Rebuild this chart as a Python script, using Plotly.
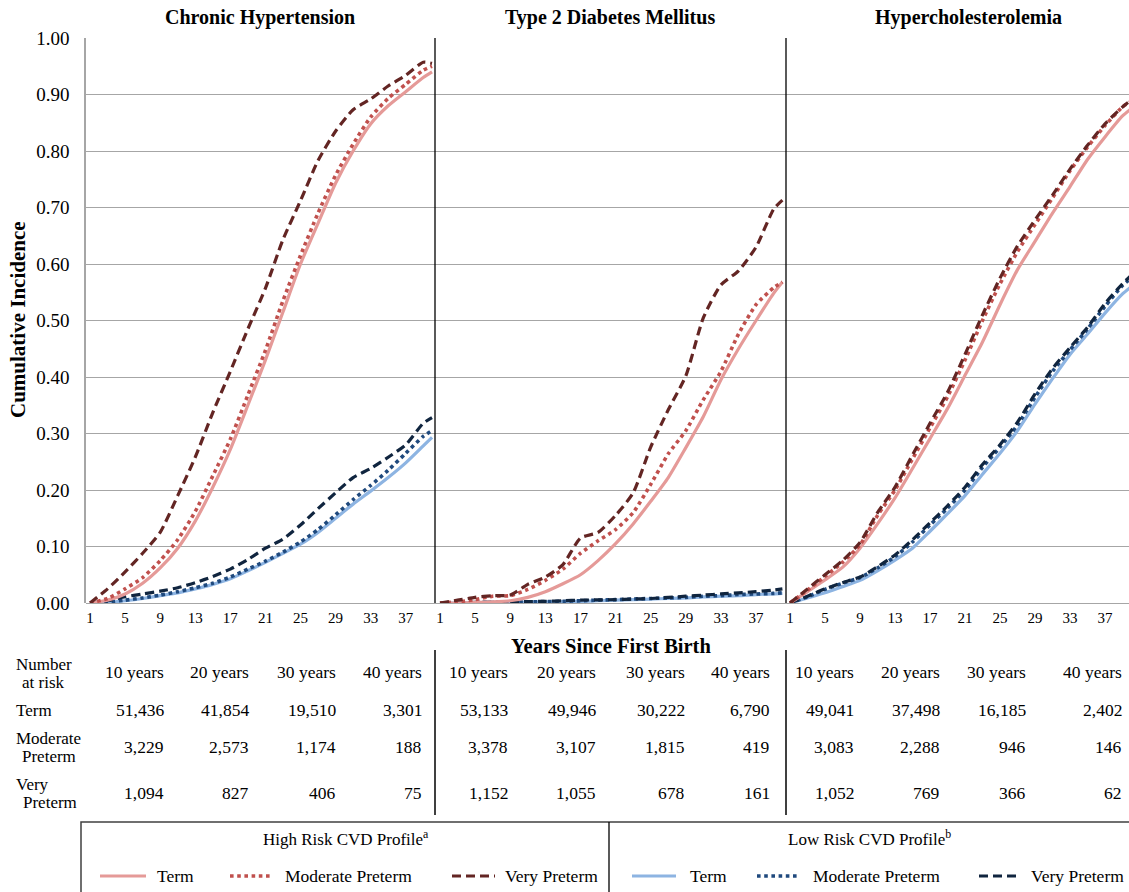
import plotly.graph_objects as go

# ---------------- data ----------------
YEARS = [1, 3, 5, 7, 9, 11, 13, 15, 17, 19, 21, 23, 25, 27, 29, 31, 33, 35, 37, 39, 40]
X_TICKS = [1, 5, 9, 13, 17, 21, 25, 29, 33, 37]
Y_TICKS = [0.0, 0.1, 0.2, 0.3, 0.4, 0.5, 0.6, 0.7, 0.8, 0.9, 1.0]

PANEL_TITLES = ["Chronic Hypertension", "Type 2 Diabetes Mellitus", "Hypercholesterolemia"]

# Chronic Hypertension
CH_high_term = [0, 0.005, 0.016, 0.035, 0.062, 0.097, 0.145, 0.205, 0.272, 0.35, 0.43, 0.515, 0.60, 0.672, 0.743, 0.80, 0.848, 0.88, 0.905, 0.93, 0.94]
CH_high_mod = [0, 0.008, 0.025, 0.045, 0.075, 0.112, 0.162, 0.225, 0.29, 0.368, 0.447, 0.535, 0.615, 0.69, 0.757, 0.812, 0.86, 0.893, 0.918, 0.943, 0.95]
CH_high_vp = [0, 0.025, 0.055, 0.088, 0.125, 0.19, 0.258, 0.337, 0.41, 0.485, 0.557, 0.643, 0.712, 0.783, 0.835, 0.873, 0.892, 0.915, 0.934, 0.957, 0.955]
CH_low_term = [0, 0.001, 0.004, 0.008, 0.013, 0.018, 0.025, 0.033, 0.043, 0.057, 0.072, 0.088, 0.104, 0.125, 0.15, 0.175, 0.198, 0.222, 0.248, 0.278, 0.293]
CH_low_mod = [0, 0.002, 0.005, 0.009, 0.014, 0.02, 0.027, 0.035, 0.046, 0.06, 0.074, 0.09, 0.108, 0.13, 0.156, 0.183, 0.208, 0.235, 0.265, 0.295, 0.305]
CH_low_vp = [0, 0.004, 0.011, 0.016, 0.021, 0.027, 0.036, 0.047, 0.06, 0.077, 0.097, 0.113, 0.138, 0.167, 0.195, 0.222, 0.238, 0.258, 0.28, 0.318, 0.328]

# Type 2 Diabetes Mellitus
T2D_high_term = [0, 0, 0.001, 0.002, 0.004, 0.01, 0.02, 0.034, 0.05, 0.075, 0.105, 0.14, 0.18, 0.222, 0.275, 0.33, 0.395, 0.45, 0.5, 0.548, 0.568]
T2D_high_mod = [0, 0.002, 0.006, 0.012, 0.013, 0.024, 0.04, 0.06, 0.088, 0.11, 0.13, 0.16, 0.21, 0.264, 0.305, 0.36, 0.41, 0.476, 0.528, 0.558, 0.568]
T2D_high_vp = [0, 0.005, 0.01, 0.013, 0.014, 0.033, 0.046, 0.068, 0.115, 0.125, 0.155, 0.195, 0.276, 0.342, 0.402, 0.505, 0.563, 0.588, 0.63, 0.697, 0.713]
T2D_low_term = [0, 0, 0.0005, 0.001, 0.001, 0.0015, 0.002, 0.0025, 0.003, 0.004, 0.005, 0.006, 0.007, 0.008, 0.009, 0.011, 0.012, 0.013, 0.015, 0.016, 0.017]
T2D_low_mod = [0, 0, 0.001, 0.001, 0.0015, 0.002, 0.0025, 0.003, 0.004, 0.005, 0.006, 0.007, 0.008, 0.009, 0.01, 0.012, 0.013, 0.015, 0.016, 0.017, 0.018]
T2D_low_vp = [0, 0, 0.001, 0.0015, 0.002, 0.0025, 0.003, 0.004, 0.005, 0.0055, 0.006, 0.007, 0.008, 0.01, 0.012, 0.014, 0.016, 0.018, 0.02, 0.023, 0.025]

# Hypercholesterolemia
HC_high_term = [0, 0.02, 0.041, 0.063, 0.097, 0.14, 0.186, 0.238, 0.291, 0.344, 0.403, 0.462, 0.528, 0.59, 0.64, 0.69, 0.737, 0.785, 0.825, 0.862, 0.875]
HC_high_mod = [0, 0.023, 0.047, 0.072, 0.103, 0.155, 0.2, 0.255, 0.31, 0.365, 0.43, 0.5, 0.565, 0.622, 0.67, 0.717, 0.765, 0.807, 0.845, 0.878, 0.888]
HC_high_vp = [0, 0.025, 0.05, 0.075, 0.107, 0.16, 0.205, 0.262, 0.318, 0.373, 0.44, 0.51, 0.575, 0.632, 0.678, 0.722, 0.768, 0.81, 0.848, 0.878, 0.89]
HC_low_term = [0, 0.009, 0.018, 0.029, 0.04, 0.057, 0.076, 0.097, 0.127, 0.158, 0.19, 0.228, 0.265, 0.305, 0.352, 0.397, 0.44, 0.476, 0.513, 0.547, 0.56]
HC_low_mod = [0, 0.011, 0.024, 0.035, 0.045, 0.062, 0.082, 0.108, 0.138, 0.168, 0.2, 0.24, 0.276, 0.315, 0.364, 0.41, 0.448, 0.485, 0.525, 0.562, 0.575]
HC_low_vp = [0, 0.012, 0.025, 0.036, 0.046, 0.064, 0.085, 0.112, 0.142, 0.172, 0.205, 0.245, 0.28, 0.32, 0.37, 0.415, 0.452, 0.488, 0.53, 0.565, 0.58]

# Number at risk table
RISK_HEADERS = ["10 years", "20 years", "30 years", "40 years"]
CH_at_risk = [["51,436", "41,854", "19,510", "3,301"], ["3,229", "2,573", "1,174", "188"], ["1,094", "827", "406", "75"]]
T2D_at_risk = [["53,133", "49,946", "30,222", "6,790"], ["3,378", "3,107", "1,815", "419"], ["1,152", "1,055", "678", "161"]]
HC_at_risk = [["49,041", "37,498", "16,185", "2,402"], ["3,083", "2,288", "946", "146"], ["1,052", "769", "366", "62"]]

LEGEND_GROUPS = ["High Risk CVD Profile<sup>a</sup>", "Low Risk CVD Profile<sup>b</sup>"]
LEGEND_LABELS = ["Term", "Moderate Preterm", "Very Preterm"]

# ---------------- styling ----------------
W, H = 1129, 892
L, T, PW, PH = 86, 38, 1043, 565
FONT = "Liberation Serif, Times New Roman, serif"

def fx(px):
    return (px - L) / PW

def fy(py):
    return (T + PH - py) / PH

STYLES = [
    dict(color="#E59A98", width=3.2, dash="solid"),
    dict(color="#C0504D", width=3.6, dash="dot"),
    dict(color="#632523", width=3.2, dash="9px,5px"),
    dict(color="#8DB4E2", width=3.2, dash="solid"),
    dict(color="#1F497D", width=3.6, dash="dot"),
    dict(color="#10253F", width=3.2, dash="9px,5px"),
]

panels = [
    [CH_high_term, CH_high_mod, CH_high_vp, CH_low_term, CH_low_mod, CH_low_vp],
    [T2D_high_term, T2D_high_mod, T2D_high_vp, T2D_low_term, T2D_low_mod, T2D_low_vp],
    [HC_high_term, HC_high_mod, HC_high_vp, HC_low_term, HC_low_mod, HC_low_vp],
]
order = [3, 4, 5, 0, 1, 2]

fig = go.Figure()
for pi, series in enumerate(panels):
    xa = "x" if pi == 0 else f"x{pi+1}"
    ya = "y" if pi == 0 else f"y{pi+1}"
    for si in order:
        st = STYLES[si]
        fig.add_trace(go.Scatter(
            x=YEARS, y=series[si], mode="lines", xaxis=xa, yaxis=ya,
            line=dict(color=st["color"], width=st["width"], dash=st["dash"],
                      shape="spline", smoothing=0.6),
            showlegend=False, hoverinfo="skip"))

panel_px = [(86, 435), (435, 786), (786, 1129)]
x_ranges = [[0.54, 40.34], [0.43, 40.41], [0.543, 39.74]]
GRID = "#A6A6A6"

layout = dict(
    width=W, height=H, plot_bgcolor="white", paper_bgcolor="white",
    margin=dict(l=L, r=W - L - PW, t=T, b=H - T - PH, pad=0),
    font=dict(family=FONT, color="black"),
    showlegend=False,
)
for pi in range(3):
    sfx = "" if pi == 0 else str(pi + 1)
    x0, x1 = panel_px[pi]
    layout["xaxis" + sfx] = dict(
        domain=[fx(x0), min(1.0, fx(x1))], range=x_ranges[pi], anchor="y" + sfx,
        tickmode="array", tickvals=X_TICKS, ticktext=[str(v) for v in X_TICKS],
        showgrid=False, zeroline=False, showline=False, ticks="", ticklabelstandoff=4,
        tickfont=dict(family=FONT, size=15, color="black"))
    layout["yaxis" + sfx] = dict(
        domain=[0, 1], range=[0, 1.0], anchor="x" + sfx,
        tickmode="array", tickvals=Y_TICKS, tickformat=".2f",
        showgrid=True, gridcolor=GRID, gridwidth=1.3,
        zeroline=True, zerolinecolor=GRID, zerolinewidth=1.3,
        showline=(pi == 0), linecolor=GRID, linewidth=1.5,
        showticklabels=(pi == 0), ticks="", ticklabelstandoff=11,
        tickfont=dict(family=FONT, size=19, color="black"))
    if pi > 0:
        layout["yaxis" + sfx]["matches"] = "y"

fig.update_layout(**layout)

ann = []
shapes = []

title_px = [260, 610, 968]
for pi, t in enumerate(PANEL_TITLES):
    ann.append(dict(x=fx(title_px[pi]), y=fy(18), xref="paper", yref="paper",
                    text=f"<b>{t}</b>", showarrow=False, xanchor="center", yanchor="middle",
                    font=dict(family=FONT, size=20, color="black")))

ann.append(dict(x=fx(18), y=fy(320), xref="paper", yref="paper", text="<b>Cumulative Incidence</b>",
                textangle=-90, showarrow=False, xanchor="center", yanchor="middle",
                font=dict(family=FONT, size=21, color="black")))
ann.append(dict(x=fx(611), y=fy(646), xref="paper", yref="paper", text="<b>Years Since First Birth</b>",
                showarrow=False, xanchor="center", yanchor="middle",
                font=dict(family=FONT, size=20.5, color="black")))

for sx in (435, 786):
    shapes.append(dict(type="line", xref="paper", yref="paper", x0=fx(sx), x1=fx(sx),
                       y0=fy(38), y1=fy(603), line=dict(color="black", width=1.3)))
    shapes.append(dict(type="line", xref="paper", yref="paper", x0=fx(sx), x1=fx(sx),
                       y0=fy(650), y1=fy(815), line=dict(color="black", width=1.5)))

TFONT = dict(family=FONT, size=17.5, color="black")
LFONT = dict(family=FONT, size=17, color="black")
col_right = [[166, 251, 338, 424], [510, 598, 687, 772], [856, 942, 1028, 1124]]
row_y = [710, 747, 793]
tables = [CH_at_risk, T2D_at_risk, HC_at_risk]
for pi in range(3):
    for ci, hdr in enumerate(RISK_HEADERS):
        ann.append(dict(x=fx(col_right[pi][ci]), y=fy(672), xref="paper", yref="paper", text=hdr,
                        showarrow=False, xanchor="right", yanchor="middle", font=TFONT))
        for ri in range(3):
            ann.append(dict(x=fx(col_right[pi][ci]), y=fy(row_y[ri]), xref="paper", yref="paper",
                            text=tables[pi][ri][ci], showarrow=False, xanchor="right",
                            yanchor="middle", font=TFONT))

row_label_lines = [("Number", 14, 664), ("at risk", 20, 682), ("Term", 14, 710),
                   ("Moderate", 14, 738), ("Preterm", 20, 756), ("Very", 14, 784), ("Preterm", 21, 802)]
for txt, lx, ly in row_label_lines:
    ann.append(dict(x=fx(lx), y=fy(ly), xref="paper", yref="paper", text=txt, showarrow=False,
                    xanchor="left", yanchor="middle", font=LFONT))

shapes.append(dict(type="rect", xref="paper", yref="paper", x0=fx(81), x1=fx(1140),
                   y0=fy(822), y1=fy(900), line=dict(color="#404040", width=1.5)))
shapes.append(dict(type="line", xref="paper", yref="paper", x0=fx(609), x1=fx(609),
                   y0=fy(822), y1=fy(900), line=dict(color="black", width=1.3)))
for gtxt, gx in zip(LEGEND_GROUPS, [346, 869]):
    ann.append(dict(x=fx(gx), y=fy(838), xref="paper", yref="paper", text=gtxt, showarrow=False,
                    xanchor="center", yanchor="middle", font=dict(family=FONT, size=17, color="black")))

leg_items = [(100, 146, 155), (230, 273, 283), (452, 495, 503),
             (632, 676, 688), (757, 800, 811), (979, 1020, 1029)]
for k, (lx0, lx1, tx) in enumerate(leg_items):
    st = STYLES[k]
    shapes.append(dict(type="line", xref="paper", yref="paper", x0=fx(lx0), x1=fx(lx1),
                       y0=fy(876), y1=fy(876),
                       line=dict(color=st["color"], width=st["width"], dash=st["dash"])))
    ann.append(dict(x=fx(tx), y=fy(876), xref="paper", yref="paper", text=LEGEND_LABELS[k % 3],
                    showarrow=False, xanchor="left", yanchor="middle",
                    font=dict(family=FONT, size=17.5, color="black")))

fig.update_layout(annotations=ann, shapes=shapes)
fig.write_html("out.html", config={"displayModeBar": False},
               post_script="document.body.style.margin='0px';")
